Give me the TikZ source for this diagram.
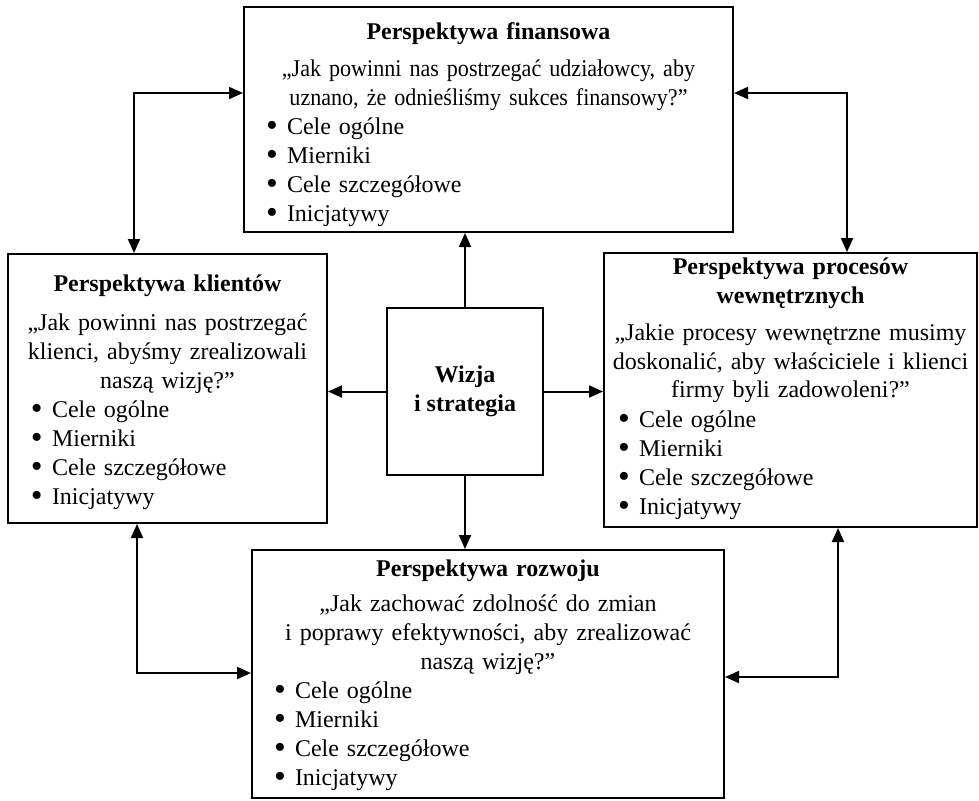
\documentclass[tikz,border=0pt]{standalone}
\usepackage{fontspec}
\setmainfont{Liberation Serif}
\usetikzlibrary{arrows.meta,calc}
\newcommand{\kropka}{\makebox[10.5pt][l]{\smash{\raisebox{-0.2ex}{\scalebox{1.4}{\textbullet}}}}}
\newcommand{\lista}[1][5pt]{\par\raggedright\hspace*{#1}\begin{tabular}[t]{@{}l@{}l@{}}\kropka & Cele ogólne\\ \kropka & Mierniki\\ \kropka & Cele szczegółowe\\ \kropka & Inicjatywy\end{tabular}\par}
\tikzset{box/.style={draw, line width=1pt, inner xsep=6pt, inner ysep=1pt, font=\fontsize{12}{14.5}\selectfont},
  arr/.style={line width=1pt, -{Triangle[length=7pt,width=6pt]}},
  arrr/.style={line width=1pt, {Triangle[length=7pt,width=6pt]}-{Triangle[length=7pt,width=6pt]}}}
\begin{document}
\begin{tikzpicture}[x=0.5pt,y=-0.5pt]
\useasboundingbox (0,0) rectangle (979,800);
\node (fin) at (488.5,119.5)[box,minimum width=244.5pt,minimum height=112.5pt,text width=232.5pt] {{\centering\rule{0pt}{15pt}\textbf{Perspektywa finansowa}\\[4pt]{\addfontfeatures{FakeStretch=0.92}„Jak powinni nas postrzegać udziałowcy, aby\\ uznano, że odnieśliśmy sukces finansowy?”}\par}\lista};
\node (kli) at (167.5,388.5)[box,minimum width=159.5pt,minimum height=134.5pt,text width=147.5pt] {{\centering\rule{0pt}{14pt}\textbf{Perspektywa klientów}\\[5pt]„Jak powinni nas postrzegać\\ klienci, abyśmy zrealizowali\\ naszą wizję?”\par}\lista[5.5pt]};
\node (wiz) at (465,391.5)[box,minimum width=78pt,minimum height=83.5pt,align=center] {\textbf{Wizja}\\\textbf{i strategia}};
\node (pro) at (790.5,390)[box,inner xsep=1pt,minimum width=186.5pt,minimum height=137pt,text width=184.5pt] {{\centering\textbf{Perspektywa procesów}\\\textbf{wewnętrznych}\\[4pt]„Jakie procesy wewnętrzne musimy\\ doskonalić, aby właściciele i klienci\\ firmy byli zadowoleni?”\par}\lista[6pt]};
\node (roz) at (488,674)[box,inner ysep=0pt,minimum width=236pt,minimum height=124pt,text width=224pt] {{\centering\rule{0pt}{11.5pt}\textbf{Perspektywa rozwoju}\\[3pt]„Jak zachować zdolność do zmian\\ i poprawy efektywności, aby zrealizować\\ naszą wizję?”\par}\lista};
\coordinate (fk) at (134,93);
\coordinate (fp) at (847,93);
\coordinate (kr) at (137,673);
\coordinate (pr) at (838,677);
\draw[arr] (wiz.north) -- (wiz.north |- fin.south);
\draw[arr] (wiz.south) -- (wiz.south |- roz.north);
\draw[arr] (wiz.west) -- (wiz.west -| kli.east);
\draw[arr] (wiz.east) -- (wiz.east -| pro.west);
\draw[arrr] (fk -| fin.west) -- (fk) -- (fk |- kli.north);
\draw[arrr] (fp -| fin.east) -- (fp) -- (fp |- pro.north);
\draw[arrr] (kr |- kli.south) -- (kr) -- (kr -| roz.west);
\draw[arrr] (pr |- pro.south) -- (pr) -- (pr -| roz.east);
\end{tikzpicture}
\end{document}
